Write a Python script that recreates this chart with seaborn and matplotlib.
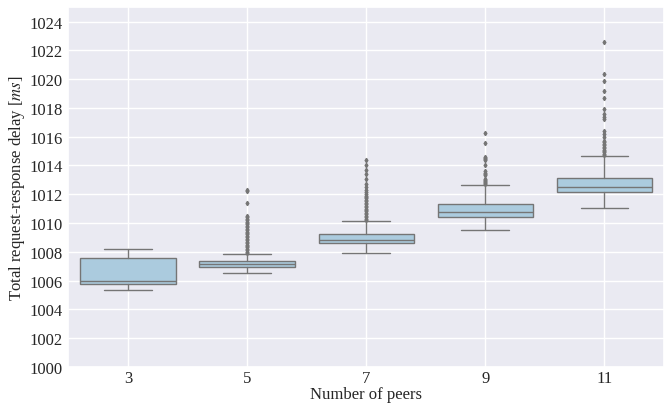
import matplotlib
matplotlib.use("Agg")
import matplotlib.pyplot as plt
import seaborn as sns

peers = ["3", "5", "7", "9", "11"]
whis_lo = [1005.32, 1006.55, 1007.92, 1009.53, 1011.06]
q1 = [1005.76, 1006.94, 1008.58, 1010.42, 1012.13]
median = [1005.94, 1007.15, 1008.82, 1010.74, 1012.50]
q3 = [1007.57, 1007.36, 1009.21, 1011.32, 1013.15]
whis_hi = [1008.17, 1007.85, 1010.14, 1012.66, 1014.65]
fliers_3 = []
fliers_5 = [1012.27, 1012.2, 1011.39, 1010.49, 1010.4, 1010.3, 1010.2, 1010.1, 1010.0,
            1009.9, 1009.8, 1009.7, 1009.6, 1009.5, 1009.4, 1009.3, 1009.2, 1009.1,
            1009.0, 1008.9, 1008.8, 1008.7, 1008.6, 1008.5, 1008.4, 1008.3, 1008.2,
            1008.1, 1008.0, 1007.9]
fliers_7 = [1014.35, 1014.0, 1013.7, 1013.42, 1013.03, 1012.73, 1012.5, 1012.27,
            1012.15, 1012.0, 1011.9, 1011.8, 1011.7, 1011.6, 1011.5, 1011.4, 1011.3,
            1011.2, 1011.1, 1011.0, 1010.9, 1010.8, 1010.7, 1010.6, 1010.5, 1010.4,
            1010.3, 1010.2]
fliers_9 = [1016.22, 1015.58, 1014.58, 1014.5, 1014.42, 1014.35, 1014.05, 1013.58,
            1013.5, 1013.42, 1013.35, 1013.08, 1013.0, 1012.92, 1012.85, 1012.78, 1012.73]
fliers_11 = [1022.61, 1020.37, 1019.88, 1019.14, 1018.68, 1017.94, 1017.57, 1017.38,
             1017.19, 1016.36, 1016.18, 1015.99, 1015.7, 1015.6, 1015.5, 1015.4, 1015.3,
             1015.2, 1015.1, 1015.0, 1014.9, 1014.8, 1014.7]
fliers = [fliers_3, fliers_5, fliers_7, fliers_9, fliers_11]

sns.set_theme(style="darkgrid")
plt.rcParams["font.family"] = ["Liberation Serif", "DejaVu Serif"]
plt.rcParams["mathtext.fontset"] = "stix"

fig = plt.figure(figsize=(6.64, 4.06), dpi=100)
ax = fig.add_axes([0.103, 0.094, 0.897, 0.886])

stats = []
for i in range(len(peers)):
    stats.append(dict(med=median[i], q1=q1[i], q3=q3[i], whislo=whis_lo[i],
                      whishi=whis_hi[i], fliers=fliers[i], label=peers[i]))

line_c = "#757575"
ax.bxp(stats, positions=list(range(len(peers))), widths=0.8, patch_artist=True,
       boxprops=dict(facecolor="#abcbde", edgecolor=line_c, linewidth=1.0),
       medianprops=dict(color=line_c, linewidth=1.0),
       whiskerprops=dict(color=line_c, linewidth=1.0),
       capprops=dict(color=line_c, linewidth=1.0),
       capwidths=0.4,
       flierprops=dict(marker="d", markersize=2.2, markerfacecolor=line_c,
                       markeredgecolor=line_c, linestyle="none"),
       zorder=3)

ax.set_xlim(-0.5, 4.5)
ax.set_ylim(1000, 1025)
ax.set_yticks(list(range(1000, 1025, 2)))
ax.set_xticks(list(range(len(peers))))
ax.set_xticklabels(peers)
ax.tick_params(axis="x", labelsize=12, length=0, pad=2)
ax.tick_params(axis="y", labelsize=12, length=0, pad=4)
ax.set_xlabel("Number of peers", fontsize=12, labelpad=0)
ax.set_ylabel("Total request-response delay [$ms$]", fontsize=12, labelpad=2)

fig.savefig("out.png", dpi=100)
